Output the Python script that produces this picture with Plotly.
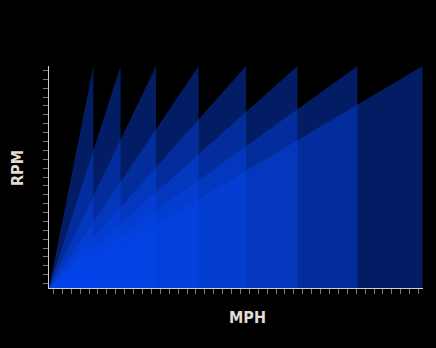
import plotly.graph_objects as go

# Top speed (MPH) reached in each gear at redline
gears = ["1st", "2nd", "3rd", "4th", "5th", "6th", "7th", "8th"]
top_mph = [24.9, 40.2, 60.1, 84.0, 110.6, 139.5, 173.2, 209.7]
redline_rpm = 7500

fig = go.Figure()
for g, v in zip(gears, top_mph):
    fig.add_trace(go.Scatter(
        x=[0, v, v], y=[0, redline_rpm, 0],
        mode="lines", fill="toself",
        fillcolor="rgba(4,68,236,0.42)",
        line=dict(width=0), name=g, hoverinfo="skip",
    ))

axis_common = dict(
    showgrid=False, zeroline=False, showticklabels=False,
    ticks="outside", ticklen=5, tickwidth=1, tickcolor="#7a7a7a",
    showline=True, linecolor="#cfcfcf", linewidth=1,
)

fig.update_xaxes(range=[0, 210], tick0=2.5, dtick=5, **axis_common)
fig.update_yaxes(range=[0, 7500], tick0=150, dtick=300, **axis_common)

fig.add_annotation(text="<b>MPH</b>", xref="paper", yref="paper",
                   x=(247 - 49) / (422.7 - 49), y=-(317 - 288) / 222,
                   showarrow=False, xanchor="center", yanchor="middle",
                   font=dict(family="DejaVu Sans Condensed", size=16, color="#e0dcd6"))
fig.add_annotation(text="<b>RPM</b>", xref="paper", yref="paper",
                   x=-(49 - 17) / (422.7 - 49), y=(288 - 168) / 222,
                   showarrow=False, textangle=-90, xanchor="center", yanchor="middle",
                   font=dict(family="DejaVu Sans Condensed", size=16, color="#e0dcd6"))

fig.update_layout(
    width=436, height=348,
    margin=dict(l=49, r=13, t=66, b=60),
    paper_bgcolor="black", plot_bgcolor="black",
    showlegend=False,
)

fig.write_html("out.html")
